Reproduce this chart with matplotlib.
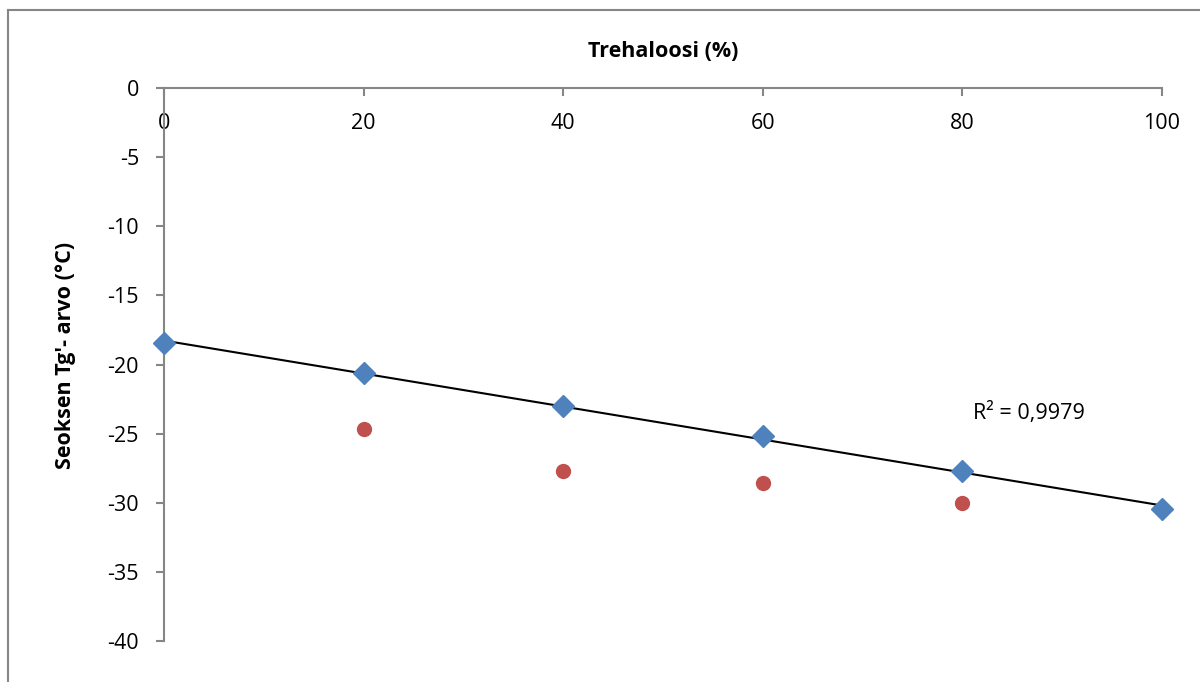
import matplotlib
matplotlib.use("Agg")
import matplotlib.pyplot as plt
import numpy as np
from matplotlib.lines import Line2D

trehalose = [0, 20, 40, 60, 80, 100]
tg_blue = [-18.45, -20.6, -23.0, -25.2, -27.7, -30.45]
trehalose_red = [20, 40, 60, 80]
tg_red = [-24.65, -27.7, -28.55, -30.05]
xticks = [0, 20, 40, 60, 80, 100]
yticks = [0, -5, -10, -15, -20, -25, -30, -35, -40]
r2_text = "R² = 0,9979"

plt.rcParams['font.family'] = ['Open Sans', 'DejaVu Sans']
FS = 15.5

fig = plt.figure(figsize=(12, 6.82), dpi=100)
ax = fig.add_axes([164/1200, 1-641/682, 998/1200, 553/682])

gray = '#868686'
# outer frame (left and top edges)
fig.add_artist(Line2D([8/1200, 8/1200], [0, 1-10/682], color=gray, lw=1.5, transform=fig.transFigure))
fig.add_artist(Line2D([8/1200, 1], [1-10/682, 1-10/682], color=gray, lw=1.5, transform=fig.transFigure))

coef = np.polyfit(trehalose, tg_blue, 1)
xs = np.array([min(trehalose), max(trehalose)])
ax.plot(xs, np.polyval(coef, xs), color='black', lw=1.5, zorder=2)

ax.plot(trehalose, tg_blue, linestyle='none', marker='D', ms=11, color='#4F81BD', zorder=3, clip_on=False)
ax.plot(trehalose_red, tg_red, linestyle='none', marker='o', ms=10, color='#C0504D', zorder=3, clip_on=False)

ax.set_xlim(0, 100)
ax.set_ylim(-40, 0)
ax.set_xticks(xticks)
ax.set_yticks(yticks)
ax.set_yticklabels([str(v) for v in yticks])

for s in ['right', 'bottom']:
    ax.spines[s].set_visible(False)
for s in ['top', 'left']:
    ax.spines[s].set_color(gray)
    ax.spines[s].set_linewidth(1.5)

ax.tick_params(axis='x', top=True, bottom=False, labeltop=True, labelbottom=False,
               direction='in', length=6, width=1.5, color=gray, pad=-33, labelsize=FS)
ax.tick_params(axis='y', direction='out', length=6, width=1.5, color=gray, labelsize=FS, pad=12)

ax.xaxis.set_label_position('top')
ax.set_xlabel('Trehaloosi (%)', fontsize=FS, fontweight='bold', labelpad=22)
ax.set_ylabel("Seoksen Tg'- arvo (°C)", fontsize=FS, fontweight='bold')
ax.yaxis.set_label_coords(-0.088, 0.517)

ax.text(81.1, -23.5, r2_text, fontsize=FS, ha='left', va='center')

fig.savefig('out.png', dpi=100)
